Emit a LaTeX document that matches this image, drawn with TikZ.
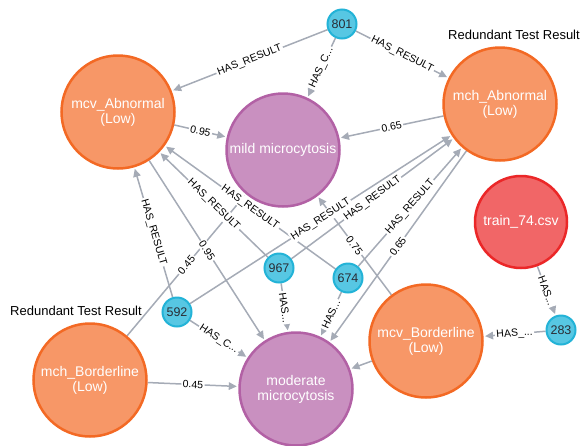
\documentclass[tikz,border=0pt]{standalone}
\usepackage{fontspec}
\setmainfont{Liberation Sans}
\usetikzlibrary{arrows.meta}
\definecolor{orfill}{HTML}{F79767}
\definecolor{ordraw}{HTML}{F36924}
\definecolor{pufill}{HTML}{C990C0}
\definecolor{pudraw}{HTML}{B261A5}
\definecolor{blfill}{HTML}{57C7E3}
\definecolor{bldraw}{HTML}{23B3D7}
\definecolor{refill}{HTML}{F16667}
\definecolor{redraw}{HTML}{EB2728}
\definecolor{edgegray}{HTML}{A5ABB6}
\definecolor{smalltext}{HTML}{2A2C34}
\pgfdeclarelayer{bg}
\pgfsetlayers{bg,main}
\tikzset{
  bignode/.style={circle, minimum size=113pt, inner sep=0pt, line width=2.5pt, text=white, align=center, font=\fontsize{14}{15}\selectfont},
  ornode/.style={bignode, fill=orfill, draw=ordraw},
  punode/.style={bignode, fill=pufill, draw=pudraw},
  renode/.style={bignode, fill=refill, draw=redraw, minimum size=92pt},
  smallnode/.style={circle, minimum size=29pt, inner sep=0pt, fill=blfill, draw=bldraw, line width=2pt, text=smalltext, font=\fontsize{12.5}{13}\selectfont},
  rel/.style={draw=edgegray, line width=1.5pt, -{Triangle[length=8pt,width=7.5pt]}, shorten >=1.5pt},
  lbl/.style={sloped, fill=white, inner sep=1.5pt, font=\fontsize{10.5}{11}\selectfont, text=black},
  tag/.style={font=\fontsize{13}{14}\selectfont, text=black, inner sep=0pt}
}
\newcommand\myedge[3]{%
  \begin{pgfonlayer}{bg}\draw[rel] (#1) -- (#2);\end{pgfonlayer}%
  \path (#1) -- node[lbl]{#3} (#2);}
\begin{document}
\begin{tikzpicture}[x=1pt,y=-1pt]
\useasboundingbox (0,0) rectangle (581,445);
% nodes
\node[smallnode] (n801) at (342,24) {801};
\node[ornode] (mcvA) at (118,112) {mcv\_Abnormal\\(Low)};
\node[punode] (mild) at (283,150) {mild microcytosis};
\node[ornode] (mchA) at (500,104) {mch\_Abnormal\\(Low)};
\node[renode] (train) at (521,222) {train\_74.csv};
\node[ornode] (mcvB) at (426,341) {mcv\_Borderline\\(Low)};
\node[smallnode] (n283) at (561,330) {283};
\node[punode] (mod) at (296,389) {moderate\\microcytosis};
\node[ornode] (mchB) at (90,380) {mch\_Borderline\\(Low)};
\node[smallnode] (n592) at (177,312) {592};
\node[smallnode] (n967) at (279,268) {967};
\node[smallnode] (n674) at (348,278) {674};
\node[tag] (tagA) at (514,35) {Redundant Test Result};
\node[tag] (tagB) at (76,311) {Redundant Test Result};
% edges
\myedge{n801}{mcvA}{HAS\_RESULT}
\myedge{n801}{mild}{HAS\_C...}
\myedge{n801}{mchA}{HAS\_RESULT}
\myedge{mcvA}{mild}{0.95}
\myedge{mchA}{mild}{0.65}
\myedge{mcvA}{mod}{0.95}
\myedge{mchA}{mod}{0.65}
\myedge{mchB}{mild}{0.45}
\myedge{mchB}{mod}{0.45}
\myedge{mcvB}{mild}{0.75}
\begin{pgfonlayer}{bg}\draw[rel] (mcvB) -- (mod);\end{pgfonlayer}
\myedge{n967}{mcvA}{HAS\_RESULT}
\myedge{n967}{mchA}{HAS\_RESULT}
\myedge{n967}{mod}{HAS...}
\myedge{n674}{mcvA}{HAS\_RESULT}
\myedge{n674}{mchA}{HAS\_RESULT}
\myedge{n674}{mod}{HAS...}
\myedge{n592}{mcvA}{HAS\_RESULT}
\myedge{n592}{mchA}{HAS\_RESULT}
\myedge{n592}{mod}{HAS\_C...}
\myedge{train}{n283}{HAS...}
\myedge{n283}{mcvB}{HAS\_...}
\end{tikzpicture}
\end{document}
